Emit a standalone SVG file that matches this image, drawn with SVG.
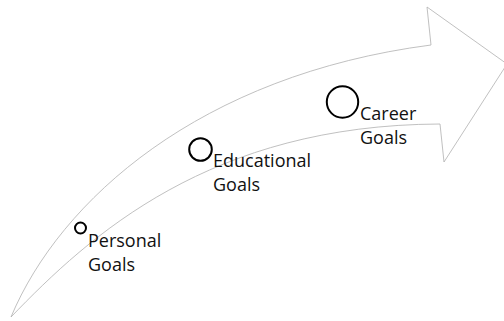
<svg xmlns="http://www.w3.org/2000/svg" width="504" height="321" viewBox="0 0 504 321">
<style>
.arrow{fill:#fff;stroke:#b0b0b0;stroke-width:0.8;stroke-linejoin:miter}
.dot{fill:none;stroke:#000;stroke-width:2}
.lbl{font-family:"Open Sans","Liberation Sans",sans-serif;font-size:18px;fill:#111}
</style>
<rect width="504" height="321" fill="#fff"/>
<g id="connectors">
<path id="arrow" class="arrow" d="M11,317 C60,200 200,75 431,45 L427,7 L507,64 L444,162 L440,124 C210,125 90,235 11,317 Z"/>
</g>
<g id="personal">
<circle class="dot" cx="80.5" cy="228" r="5.5"/>
<text class="lbl" x="88" y="246.5">Personal<tspan x="88" y="270.5">Goals</tspan></text>
</g>
<g id="educational">
<circle class="dot" cx="200.5" cy="149.5" r="11.3"/>
<text class="lbl" x="213" y="166.5">Educational<tspan x="213" y="190.5">Goals</tspan></text>
</g>
<g id="career">
<circle class="dot" cx="342.5" cy="102" r="15.7"/>
<text class="lbl" x="360" y="120">Career<tspan x="360" y="143.5">Goals</tspan></text>
</g>
</svg>
